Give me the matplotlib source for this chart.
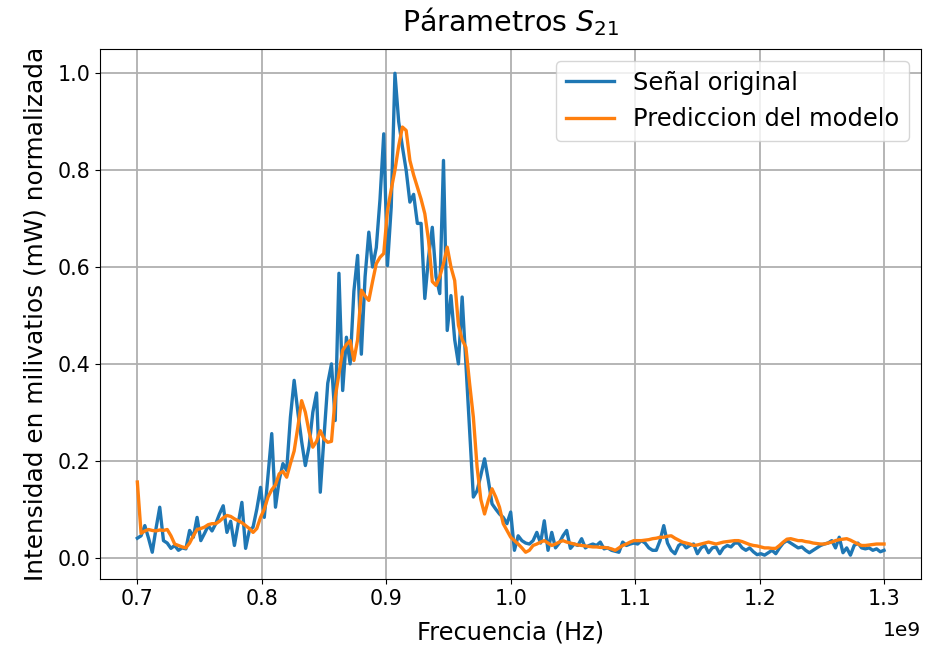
import numpy as np
import matplotlib
matplotlib.use("Agg")
import matplotlib.pyplot as plt

# Frequency grid (Hz): 0.7 GHz to 1.3 GHz, 3 MHz step
freq_start = 0.7e9
freq_stop = 1.3e9

senal_original = [
    0.04, 0.045, 0.066, 0.04, 0.011, 0.06, 0.104, 0.035, 0.03, 0.019,
    0.025, 0.015, 0.02, 0.018, 0.056, 0.042, 0.083, 0.035, 0.05, 0.066,
    0.055, 0.07, 0.09, 0.107, 0.052, 0.075, 0.025, 0.07, 0.114, 0.019,
    0.056, 0.063, 0.1, 0.145, 0.083, 0.17, 0.256, 0.104, 0.16, 0.194,
    0.18, 0.29, 0.366, 0.3, 0.24, 0.19, 0.23, 0.30, 0.34, 0.135,
    0.25, 0.36, 0.40, 0.283, 0.587, 0.345, 0.455, 0.40, 0.55, 0.624,
    0.42, 0.58, 0.672, 0.60, 0.64, 0.74, 0.875, 0.603, 0.724, 1.0,
    0.9, 0.848, 0.80, 0.734, 0.75, 0.69, 0.69, 0.535, 0.62, 0.682,
    0.58, 0.545, 0.82, 0.469, 0.541, 0.45, 0.40, 0.538, 0.40, 0.26,
    0.125, 0.138, 0.17, 0.204, 0.16, 0.111, 0.1, 0.09, 0.083, 0.07,
    0.094, 0.015, 0.045, 0.035, 0.03, 0.028, 0.035, 0.052, 0.03, 0.076,
    0.015, 0.052, 0.02, 0.03, 0.045, 0.056, 0.019, 0.028, 0.025, 0.039,
    0.02, 0.025, 0.028, 0.025, 0.032, 0.018, 0.02, 0.015, 0.013, 0.011,
    0.032, 0.025, 0.028, 0.03, 0.028, 0.035, 0.03, 0.02, 0.015, 0.015,
    0.035, 0.066, 0.03, 0.015, 0.008, 0.025, 0.03, 0.02, 0.025, 0.028,
    0.008, 0.02, 0.025, 0.01, 0.02, 0.022, 0.008, 0.02, 0.025, 0.022,
    0.03, 0.03, 0.02, 0.015, 0.02, 0.012, 0.006, 0.008, 0.005, 0.01,
    0.015, 0.008, 0.02, 0.03, 0.035, 0.03, 0.025, 0.02, 0.022, 0.015,
    0.01, 0.015, 0.02, 0.025, 0.028, 0.03, 0.035, 0.02, 0.042, 0.01,
    0.02, 0.005, 0.025, 0.03, 0.02, 0.018, 0.02, 0.015, 0.018, 0.012,
    0.015,
]

prediccion_modelo = [
    0.156, 0.05, 0.055, 0.058, 0.056, 0.055, 0.057, 0.056, 0.058, 0.045,
    0.028, 0.025, 0.022, 0.02, 0.03, 0.045, 0.058, 0.06, 0.063, 0.068,
    0.07, 0.07, 0.075, 0.082, 0.087, 0.085, 0.08, 0.076, 0.072, 0.066,
    0.06, 0.052, 0.06, 0.083, 0.1, 0.125, 0.14, 0.15, 0.173, 0.178,
    0.166, 0.194, 0.22, 0.27, 0.324, 0.3, 0.26, 0.228, 0.24, 0.262,
    0.245, 0.238, 0.24, 0.331, 0.38, 0.428, 0.44, 0.448, 0.407, 0.45,
    0.552, 0.54, 0.531, 0.57, 0.607, 0.62, 0.628, 0.717, 0.76, 0.80,
    0.85, 0.889, 0.882, 0.82, 0.79, 0.765, 0.74, 0.71, 0.655, 0.57,
    0.562, 0.58, 0.607, 0.641, 0.60, 0.572, 0.48, 0.45, 0.434, 0.359,
    0.29, 0.187, 0.12, 0.09, 0.118, 0.142, 0.125, 0.104, 0.07, 0.056,
    0.042, 0.035, 0.028, 0.02, 0.011, 0.015, 0.025, 0.028, 0.032, 0.035,
    0.03, 0.025, 0.028, 0.032, 0.035, 0.032, 0.03, 0.028, 0.026, 0.025,
    0.024, 0.023, 0.022, 0.022, 0.021, 0.021, 0.02, 0.018, 0.015, 0.02,
    0.025, 0.028, 0.032, 0.035, 0.035, 0.035, 0.036, 0.037, 0.039, 0.04,
    0.042, 0.042, 0.044, 0.045, 0.04, 0.036, 0.032, 0.03, 0.028, 0.025,
    0.026, 0.028, 0.03, 0.032, 0.03, 0.028, 0.03, 0.032, 0.033, 0.034,
    0.035, 0.035, 0.033, 0.03, 0.027, 0.025, 0.024, 0.022, 0.02, 0.02,
    0.019, 0.019, 0.025, 0.032, 0.038, 0.039, 0.037, 0.035, 0.035, 0.033,
    0.032, 0.03, 0.029, 0.028, 0.028, 0.03, 0.032, 0.035, 0.037, 0.038,
    0.039, 0.036, 0.032, 0.028, 0.025, 0.025, 0.026, 0.027, 0.028, 0.028,
    0.028,
]

freqs = np.linspace(freq_start, freq_stop, len(senal_original))

plt.rcParams['font.family'] = ['DejaVu Sans']
plt.rcParams['font.size'] = 14.5

fig = plt.figure(figsize=(9.26, 6.56), dpi=100)
ax = fig.add_axes([0.108, 0.117, 0.887, 0.808])

ax.plot(freqs, senal_original, color='#1f77b4', lw=2.4, label='Señal original')
ax.plot(freqs, prediccion_modelo, color='#ff7f0e', lw=2.4, label='Prediccion del modelo')

ax.set_title(r'Párametros $S_{21}$', fontsize=20.5, pad=13)
ax.set_xlabel('Frecuencia (Hz)', fontsize=17.4, labelpad=8)
ax.set_ylabel('Intensidad en milivatios (mW) normalizada', fontsize=17.8, labelpad=7)
ax.set_yticks([0.0, 0.2, 0.4, 0.6, 0.8, 1.0])
ax.tick_params(labelsize=14.8)
ax.xaxis.OFFSETTEXTPAD = 9
ax.grid(True, color='#b0b0b0', lw=1.3)
ax.legend(loc='upper right', fontsize=17.4)

fig.savefig('out.png', dpi=100)
